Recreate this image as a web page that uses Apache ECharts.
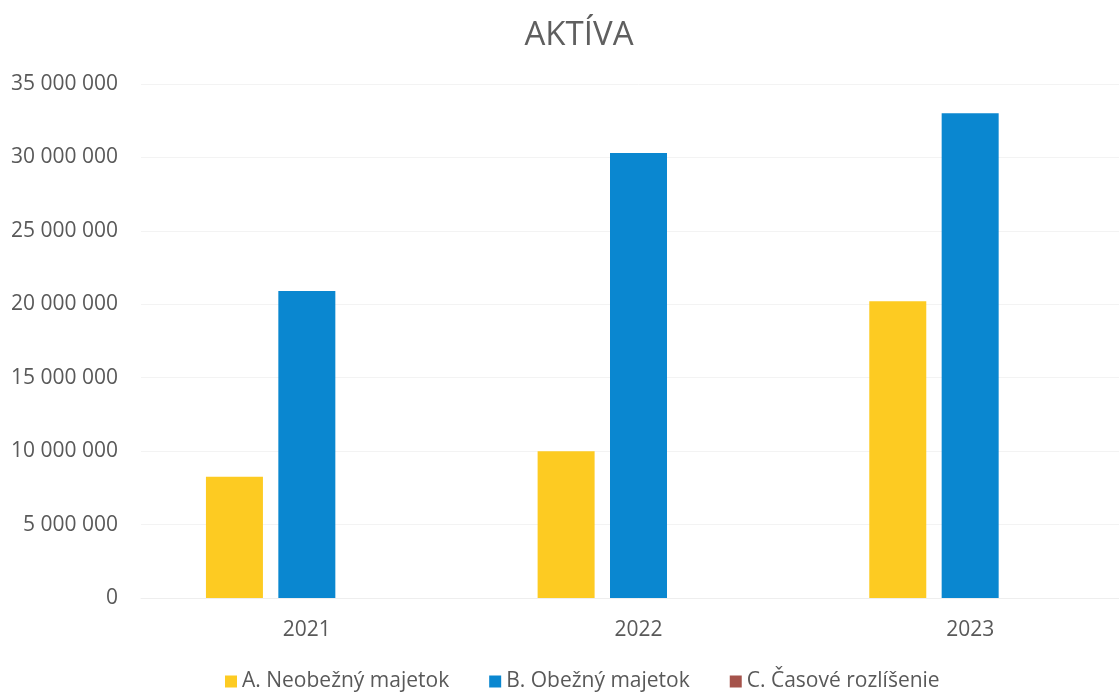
<!DOCTYPE html>
<html><head><meta charset="utf-8">
<script src="https://cdn.jsdelivr.net/npm/echarts@6/dist/echarts.min.js"></script>
<style>html,body{margin:0;padding:0;background:#fff;overflow:hidden}#c{width:1140px;height:693px}</style>
</head><body><div id="c"></div>
<script>
const categories = ['2021', '2022', '2023'];
const seriesNames = ['A. Neobežný majetok', 'B. Obežný majetok', 'C. Časové rozlíšenie'];
const neobezny = [8250000, 10000000, 20200000];
const obezny = [20900000, 30300000, 33000000];
const casove = [0, 0, 0];
const colors = ['#FDCB22', '#0A87D0', '#A5534B'];

const chart = echarts.init(document.getElementById('c'));
const font = '"Open Sans", sans-serif';
chart.setOption({
  animation: false,
  color: colors,
  title: {
    text: 'AKTÍVA', left: 574, top: 14, textAlign: 'center',
    textStyle: { fontFamily: font, fontSize: 33, fontWeight: 'normal', color: '#5f5f5f' }
  },
  legend: {
    bottom: -4, left: 220, itemWidth: 12, itemHeight: 12, itemGap: 40,
    icon: 'rect',
    textStyle: { fontFamily: font, fontSize: 21, color: '#595959' },
    data: seriesNames
  },
  grid: { left: 141, right: 4, top: 84, bottom: 95, containLabel: false },
  xAxis: {
    type: 'category', data: categories,
    axisLine: { show: true, lineStyle: { color: '#eeeeee' } },
    axisTick: { show: false },
    axisLabel: { fontFamily: font, fontSize: 21, color: '#595959', margin: 22 }
  },
  yAxis: {
    type: 'value', min: 0, max: 35000000, interval: 5000000,
    axisLine: { show: false }, axisTick: { show: false },
    splitLine: { lineStyle: { color: '#f3f3f3' } },
    axisLabel: {
      fontFamily: font, fontSize: 21, color: '#595959', margin: 23,
      formatter: v => String(v).replace(/\B(?=(\d{3})+(?!\d))/g, ' ')
    }
  },
  series: [
    { name: seriesNames[0], type: 'bar', data: neobezny, barWidth: 57, barGap: '27%' },
    { name: seriesNames[1], type: 'bar', data: obezny, barWidth: 57, barGap: '27%' },
    { name: seriesNames[2], type: 'bar', data: casove, barWidth: 57, barGap: '27%' }
  ]
});
</script></body></html>
